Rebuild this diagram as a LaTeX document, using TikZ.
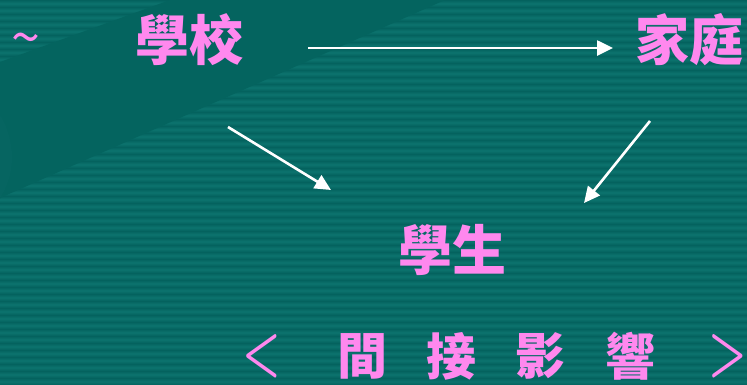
\documentclass[tikz,border=0pt]{standalone}
\usepackage{fontspec}
\newfontfamily\cjk{Noto Sans CJK TC}
\usetikzlibrary{arrows.meta}
\definecolor{bgA}{RGB}{4,98,94}
\definecolor{bgB}{RGB}{12,115,110}
\definecolor{wedge}{RGB}{4,100,95}
\definecolor{pinktxt}{RGB}{255,136,238}
\begin{document}
\begin{tikzpicture}[x=1pt,y=-1pt,
  lbl/.style={text=pinktxt,font=\cjk\bfseries\fontsize{54}{54}\selectfont,inner sep=0pt},
  sml/.style={text=pinktxt,font=\cjk\bfseries\fontsize{50}{50}\selectfont,inner sep=0pt},
  brk/.style={text=pinktxt,font=\bfseries\fontsize{36}{36}\selectfont,inner sep=0pt},
  arr/.style={draw=white,line width=2.6pt,-{Triangle[length=16pt,width=15pt]}}]
\useasboundingbox (0,0) rectangle (747,384);
\fill[bgA] (0,0) rectangle (747,384);
\foreach \y in {0,7,...,385} \shade[top color=bgA,bottom color=bgA,middle color=bgB] (0,\y) rectangle (747,\y+7);
\fill[wedge] (0,62) -- (170,0) -- (445,0) -- (0,198) -- cycle;
\fill[bgA!80!bgB] (0,115) .. controls (16,140) and (16,175) .. (0,198) -- cycle;
% labels
\node[text=pinktxt,font=\cjk\fontsize{52}{52}\selectfont,inner sep=0pt] (tilde) at (26,45) {\textasciitilde};
\node[lbl] (school) at (189,40) {學校};
\node[lbl] (home) at (689,40) {家庭};
\node[lbl] (student) at (452,250) {學生};
\node[brk] (lt) at (262,356) {\scalebox{1.2}[1.8]{<}};
\node[sml] (c1) at (362,356) {間};
\node[sml] (c2) at (451,356) {接};
\node[sml] (c3) at (540,356) {影};
\node[sml] (c4) at (630,356) {響};
\node[brk] (gt) at (728,356) {\scalebox{1.2}[1.8]{>}};
% connectors
\coordinate (a1s) at (308,48);
\coordinate (a1e) at (613,48);
\coordinate (a2s) at (228,127);
\coordinate (a2e) at (331,190);
\coordinate (a3s) at (650,121);
\coordinate (a3e) at (584,203);
\draw[arr] (a1s) -- (a1e);
\draw[arr] (a2s) -- (a2e);
\draw[arr] (a3s) -- (a3e);
\end{tikzpicture}
\end{document}
